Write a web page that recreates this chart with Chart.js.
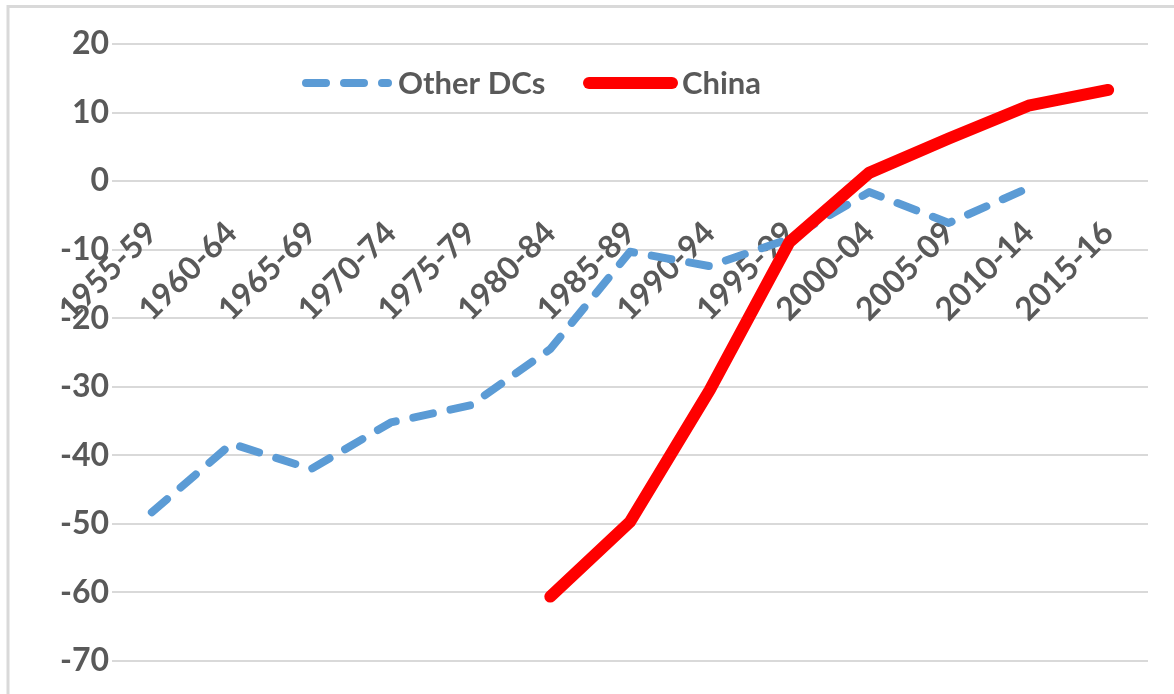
<!DOCTYPE html>
<html>
<head>
<meta charset="utf-8">
<script src="https://cdn.jsdelivr.net/npm/chart.js@4"></script>
<style>
  html, body { margin: 0; padding: 0; background: #fff; }
</style>
</head>
<body>
<canvas id="chart" width="1174" height="694"></canvas>
<script>
const periods = ['1955-59', '1960-64', '1965-69', '1970-74', '1975-79', '1980-84', '1985-89',
    '1990-94', '1995-99', '2000-04', '2005-09', '2010-14', '2015-16'];
const otherDCs = [-48.3, -38.3, -42.0, -35.2, -32.7, -24.5, -10.3, -12.4, -8.4, -1.6, -6.1, -1.0, null];
const china = [null, null, null, null, null, -60.6, -49.7, -30.5, -8.9, 1.2, 6.2, 11.0, 13.3];
const yMin = -70;
const yMax = 20;
const yStep = 10;

const textColor = '#595959';
const gridColor = '#d9d9d9';
const fontFamily = 'Lato, sans-serif';

// frame lines and the legend sit inside the plot, so draw them by hand
const frame = {
    id: 'frame',
    beforeDraw(chart) {
        const ctx = chart.ctx;
        ctx.save();
        ctx.strokeStyle = gridColor;
        ctx.lineWidth = 3;
        ctx.beginPath();
        ctx.moveTo(8, 694);
        ctx.lineTo(8, 6.5);
        ctx.lineTo(1174, 6.5);
        ctx.stroke();
        ctx.restore();
    },
    afterDraw(chart) {
        const ctx = chart.ctx;
        const y = 83;
        ctx.save();
        ctx.lineCap = 'round';

        ctx.strokeStyle = '#5b9bd5';
        ctx.lineWidth = 8;
        ctx.setLineDash([20, 18]);
        ctx.beginPath();
        ctx.moveTo(306, y);
        ctx.lineTo(388, y);
        ctx.stroke();

        ctx.strokeStyle = '#ff0000';
        ctx.lineWidth = 12;
        ctx.setLineDash([]);
        ctx.beginPath();
        ctx.moveTo(589, y);
        ctx.lineTo(672, y);
        ctx.stroke();

        ctx.fillStyle = textColor;
        ctx.font = 'bold 31px ' + fontFamily;
        ctx.textBaseline = 'middle';
        ctx.fillText('Other DCs', 398, y + 1);
        ctx.fillText('China', 682, y + 1);
        ctx.restore();
    },
};

new Chart(document.getElementById('chart'), {
    type: 'line',
    data: {
        labels: periods,
        datasets: [
            {
                label: 'China',
                data: china,
                borderColor: '#ff0000',
                borderWidth: 12,
                borderCapStyle: 'round',
                borderJoinStyle: 'round',
                pointRadius: 0,
                tension: 0,
                order: 1,
            },
            {
                label: 'Other DCs',
                data: otherDCs,
                borderColor: '#5b9bd5',
                borderWidth: 8,
                borderDash: [20, 18],
                borderCapStyle: 'round',
                borderJoinStyle: 'round',
                pointRadius: 0,
                tension: 0,
                order: 2,
            },
        ],
    },
    options: {
        responsive: false,
        animation: false,
        layout: { padding: { left: 0, top: 44, right: 26, bottom: 33 } },
        plugins: {
            legend: { display: false },
            tooltip: { enabled: false },
        },
        scales: {
            x: {
                position: { y: 0 },
                offset: true,
                z: 1,
                grid: { display: false, drawTicks: false },
                border: { display: false },
                ticks: {
                    autoSkip: false,
                    minRotation: 45,
                    maxRotation: 45,
                    padding: 33,
                    color: textColor,
                    font: { family: fontFamily, size: 32, weight: 'bold' },
                },
            },
            y: {
                min: yMin,
                max: yMax,
                afterFit: (scale) => { scale.width = 112; },
                grid: { color: gridColor, lineWidth: 2, drawTicks: false },
                border: { display: false },
                ticks: {
                    stepSize: yStep,
                    padding: 3,
                    color: textColor,
                    font: { family: fontFamily, size: 32, weight: 'bold' },
                },
            },
        },
    },
    plugins: [frame],
});
</script>
</body>
</html>
